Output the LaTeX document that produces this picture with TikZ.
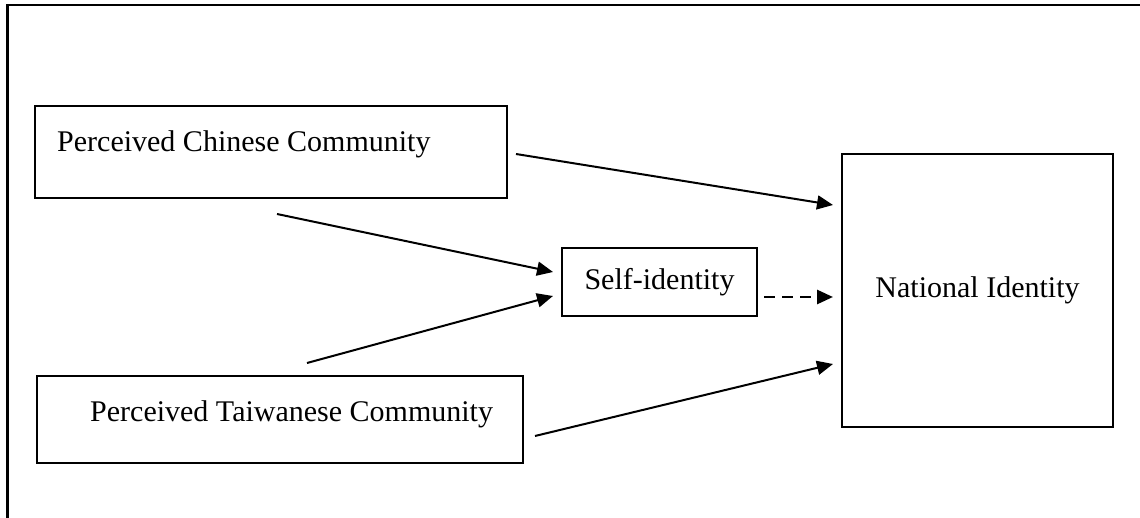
\documentclass[tikz,border=0pt]{standalone}
\usepackage{fontspec}
\setmainfont{Liberation Serif}
\usetikzlibrary{arrows.meta}
\tikzset{
  box/.style={shape=rectangle,draw=black,line width=2.3pt,inner sep=0pt},
  txt/.style={anchor=base west,inner sep=0pt},
  link/.style={line width=2pt,-{Triangle[length=16pt,width=14pt]}},
}
\begin{document}
\begin{tikzpicture}[x=1pt,y=-1pt,font=\fontsize{30}{36}\selectfont]
        \useasboundingbox (0,0) rectangle (1140,518);
        \draw[line width=2.5pt] (7.5,518) -- (7.5,5) -- (1140,5);

        \node[box,minimum width=472pt,minimum height=92pt] (chinese) at (271,152) {};
        \node[box,minimum width=486pt,minimum height=87pt] (taiwanese) at (280,419.5) {};
        \node[box,minimum width=195pt,minimum height=68pt] (self) at (659.5,282) {Self-identity};
        \node[box,minimum width=271pt,minimum height=273pt] (national) at (977.5,290.5) {National Identity};
        \node[txt] (chinese-text) at (57,152) {Perceived Chinese Community};
        \node[txt] (taiwanese-text) at (90,421) {Perceived Taiwanese Community};

        \coordinate (c-out1) at (516,154);
        \coordinate (c-out2) at (277,214);
        \coordinate (t-out1) at (307,363);
        \coordinate (t-out2) at (535,436);
        \coordinate (s-in1) at (553,272);
        \coordinate (s-in2) at (553,296);
        \coordinate (s-out) at (764,297);
        \coordinate (n-in1) at (833,205);
        \coordinate (n-in2) at (833,297);
        \coordinate (n-in3) at (833,364);

        \path[link]
        (c-out1) edge (n-in1)
        (c-out2) edge (s-in1)
        (t-out1) edge (s-in2)
        (t-out2) edge (n-in3)
        ;

        \path[link,line width=2.8pt,dash pattern=on 11pt off 7pt]
        (s-out) edge (n-in2);
\end{tikzpicture}
\end{document}
